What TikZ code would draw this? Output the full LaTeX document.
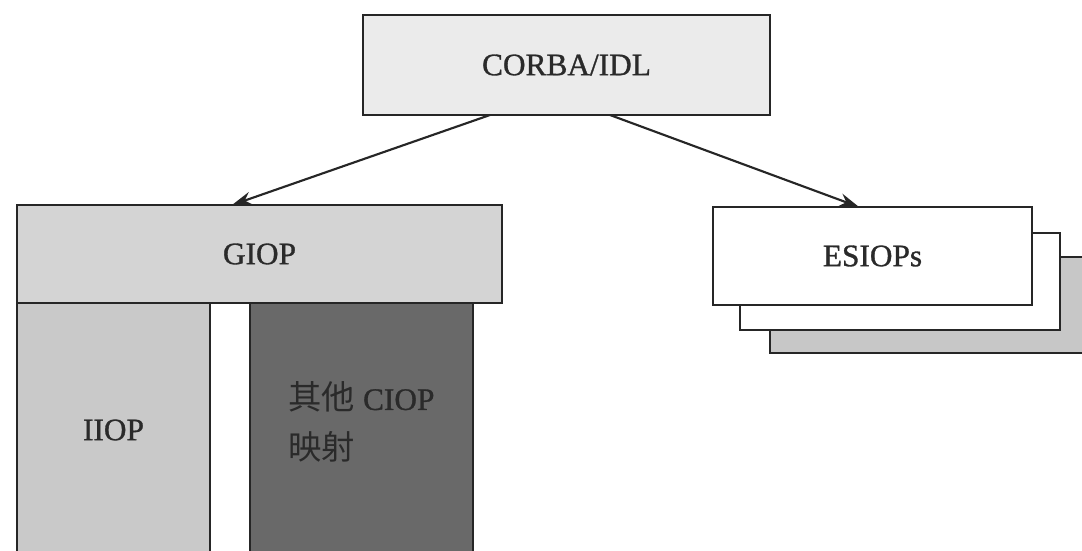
\documentclass[tikz,border=0pt]{standalone}
\usepackage{fontspec}
\setmainfont{Liberation Serif}[FakeBold=1.0]
\newfontfamily\cjk{Noto Sans CJK SC}
\usetikzlibrary{arrows.meta}
\definecolor{txt}{HTML}{2A2A2A}
\definecolor{edge}{HTML}{262626}
\tikzset{
  box/.style={draw=edge, line width=1.9pt, minimum width=#1, inner sep=0pt, text=txt, font=\fontsize{23.5}{28}\selectfont},
  conn/.style={draw=edge, line width=1.6pt, -{Stealth[length=15pt,width=10pt]}}
}
\begin{document}
\begin{tikzpicture}[x=0.75pt,y=-0.75pt]
\useasboundingbox (0,0) rectangle (1082,550);
\clip (0,0) rectangle (1082,550);
% ESIOP stack (back to front)
\node[box=340*0.75pt, minimum height=96*0.75pt, fill=black!22] (es3) at (940,305) {};
\node[box=320*0.75pt, minimum height=97*0.75pt, fill=white] (es2) at (900,281.5) {};
\node[box=319*0.75pt, minimum height=98*0.75pt, fill=white] (es1) at (872.5,256) {ESIOPs};
% CORBA
\node[box=407*0.75pt, minimum height=100*0.75pt, fill=black!8] (corba) at (566.5,65) {CORBA/IDL};
% lower boxes
\node[box=193*0.75pt, minimum height=254*0.75pt, fill=black!21] (iiop) at (113.5,430) {IIOP};
\node[box=223*0.75pt, minimum height=254*0.75pt, fill=black!59] (other) at (361.5,430) {};
\node[text=txt, align=left, font=\fontsize{23.5}{37}\selectfont, inner sep=0pt] (otherlabel) at (361.5,422) {{\cjk\fontsize{25}{37}\selectfont 其他} CIOP\\{\cjk\fontsize{25}{37}\selectfont 映射}};
\node[box=485*0.75pt, minimum height=98*0.75pt, fill=black!17] (giop) at (259.5,254) {GIOP};
% connectors
\coordinate (c1) at (490,115);
\coordinate (c2) at (610,115);
\draw[conn] (c1) -- (232,205);
\draw[conn] (c2) -- (859,207);
\end{tikzpicture}
\end{document}
